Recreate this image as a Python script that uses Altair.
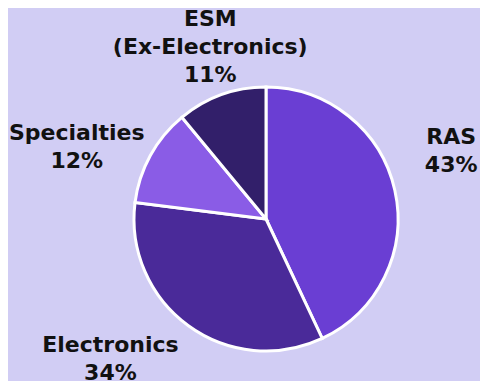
import altair as alt
import pandas as pd

# Data
categories = ["RAS", "Electronics", "Specialties", "ESM\n(Ex-Electronics)"]
shares = [43, 34, 12, 11]
colors = ["#6a3ed3", "#4a2a99", "#8a5ce6", "#321f6a"]

df = pd.DataFrame({
    "category": categories,
    "share": shares,
    "order": list(range(len(categories))),
})
df["label"] = df["category"] + "\n" + df["share"].astype(str) + "%"

BG = "#d1cdf4"

base = alt.Chart(df).encode(
    theta=alt.Theta("share:Q", stack=True),
    order=alt.Order("order:Q", sort="ascending"),
)

arcs = base.mark_arc(radius=132, stroke="white", strokeWidth=3).encode(
    color=alt.Color("category:N", scale=alt.Scale(domain=categories, range=colors), legend=None)
)

# label nudges (style only)
nudges = {
    "RAS": (-10, -38),
    "Electronics": (-38, -36),
    "Specialties": (-14, 10),
    "ESM\n(Ex-Electronics)": (12, -12),
}

layers = [arcs]
for cat, (dx, dy) in nudges.items():
    layers.append(
        base.mark_text(
            radius=200, dx=dx, dy=dy, lineBreak="\n", align="center", baseline="middle",
            font="DejaVu Sans", fontWeight="bold", fontSize=22, lineHeight=28, color="#111111",
        ).encode(text=alt.condition(alt.datum.category == cat, "label:N", alt.value("")))
    )

chart = alt.layer(*layers).properties(
    width=428, height=324,
    padding={"left": 44, "top": 49, "right": 0, "bottom": 0},
    autosize=alt.AutoSizeParams(type="none"),
    background=BG,
).configure_view(stroke=None)

chart.save("out.html", embed_options={"renderer": "svg", "actions": False})
